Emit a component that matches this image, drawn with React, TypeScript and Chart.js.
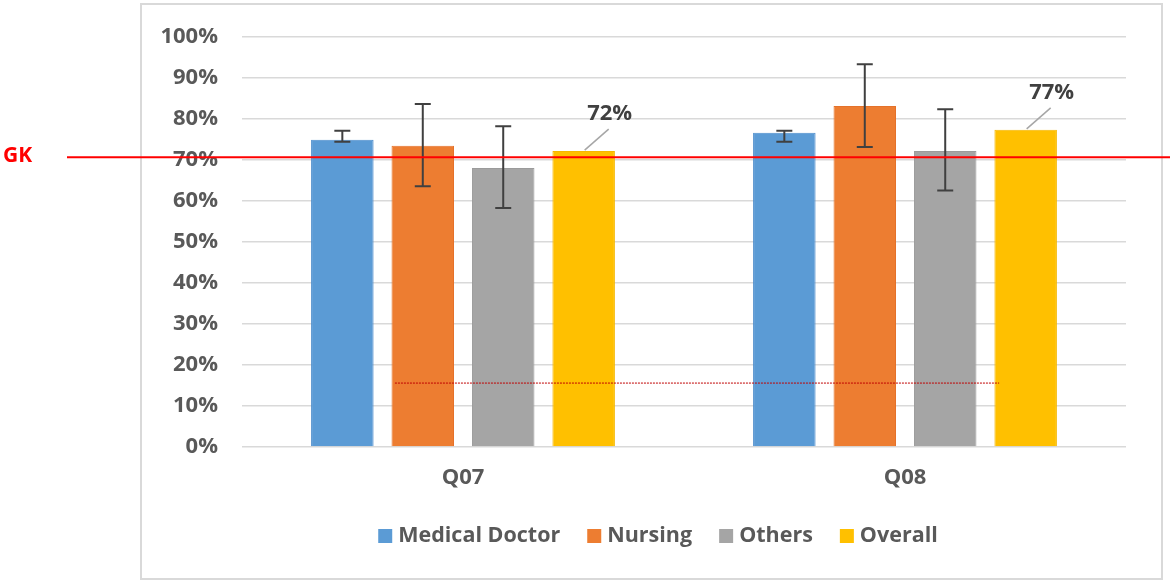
import React, { useEffect, useRef } from 'react'
import { Chart, registerables } from 'chart.js'

Chart.register(...registerables)

// valores
const categories = ['Q07', 'Q08']
const seriesNames = ['Medical Doctor', 'Nursing', 'Others', 'Overall']
const medicalDoctor = [75.0, 76.7]
const nursing = [73.5, 83.2]
const others = [68.1, 72.2]
const overall = [72.2, 77.4]

// barras de error (limite inferior / superior)
const medicalDoctorLow = [74.5, 74.5]
const medicalDoctorHigh = [77.2, 77.2]
const nursingLow = [63.6, 73.2]
const nursingHigh = [83.7, 93.4]
const othersLow = [58.3, 62.6]
const othersHigh = [78.3, 82.4]

const yTickValues = [0, 10, 20, 30, 40, 50, 60, 70, 80, 90, 100]

// linea GK y linea punteada (en unidades de datos)
const gkLabel = 'GK'
const gkLevel = 70.7
const dottedLevel = 15.6
const dottedFrom = -0.154
const dottedTo = 1.213

const colors = ['#5B9BD5', '#ED7D31', '#A5A5A5', '#FFC000']
const borders = ['#4A8BCB', '#E5722A', '#9B9B9B', '#F5B800']
const FONT = "'Open Sans', sans-serif"

const framePlugin = {
  id: 'frame',
  beforeDraw(chart: any) {
    const { ctx } = chart
    ctx.save()
    ctx.strokeStyle = '#d9d9d9'
    ctx.lineWidth = 2
    ctx.strokeRect(141, 4, 1021, 575)
    ctx.restore()
  },
}

const errorBarsPlugin = {
  id: 'errorBars',
  afterDatasetsDraw(chart: any) {
    const { ctx } = chart
    const y = chart.scales.y
    chart.data.datasets.forEach((ds: any, i: number) => {
      if (!ds.errLow) return
      const meta = chart.getDatasetMeta(i)
      meta.data.forEach((bar: any, j: number) => {
        const yl = y.getPixelForValue(ds.errLow[j])
        const yh = y.getPixelForValue(ds.errHigh[j])
        ctx.save()
        ctx.strokeStyle = '#404040'
        ctx.lineWidth = 2
        ctx.beginPath()
        ctx.moveTo(bar.x, yl)
        ctx.lineTo(bar.x, yh)
        ctx.moveTo(bar.x - 8, yl)
        ctx.lineTo(bar.x + 8, yl)
        ctx.moveTo(bar.x - 8, yh)
        ctx.lineTo(bar.x + 8, yh)
        ctx.stroke()
        ctx.restore()
      })
    })
  },
}

const overallLabelsPlugin = {
  id: 'overallLabels',
  afterDatasetsDraw(chart: any) {
    const { ctx } = chart
    const idx = chart.data.datasets.length - 1
    const ds = chart.data.datasets[idx]
    const meta = chart.getDatasetMeta(idx)
    meta.data.forEach((bar: any, j: number) => {
      ctx.save()
      ctx.strokeStyle = '#a6a6a6'
      ctx.lineWidth = 1.5
      ctx.beginPath()
      ctx.moveTo(bar.x + 1, bar.y - 1)
      ctx.lineTo(bar.x + 25, bar.y - 22)
      ctx.stroke()
      ctx.fillStyle = '#404040'
      ctx.font = `bold 22px ${FONT}`
      ctx.textAlign = 'center'
      ctx.textBaseline = 'middle'
      ctx.fillText(Math.round(ds.data[j]) + '%', bar.x + 26, bar.y - 37)
      ctx.restore()
    })
  },
}

const refLinesPlugin = {
  id: 'refLines',
  afterDraw(chart: any) {
    const { ctx } = chart
    const x = chart.scales.x
    const y = chart.scales.y
    // linea punteada
    const yd = y.getPixelForValue(dottedLevel)
    ctx.save()
    ctx.strokeStyle = '#c00000'
    ctx.lineWidth = 1
    ctx.setLineDash([2, 1])
    ctx.beginPath()
    ctx.moveTo(x.getPixelForValue(dottedFrom), yd)
    ctx.lineTo(x.getPixelForValue(dottedTo), yd)
    ctx.stroke()
    ctx.restore()
    // linea GK
    const yg = y.getPixelForValue(gkLevel)
    ctx.save()
    ctx.strokeStyle = '#ff0000'
    ctx.lineWidth = 2
    ctx.beginPath()
    ctx.moveTo(67, yg)
    ctx.lineTo(chart.width, yg)
    ctx.stroke()
    ctx.fillStyle = '#ff0000'
    ctx.font = `bold 21px ${FONT}`
    ctx.textAlign = 'left'
    ctx.textBaseline = 'middle'
    ctx.fillText(gkLabel, 3, yg - 1)
    ctx.restore()
  },
}

const legendPlugin = {
  id: 'customLegend',
  afterDraw(chart: any) {
    const { ctx } = chart
    ctx.save()
    ctx.font = `bold 21.5px ${FONT}`
    ctx.textBaseline = 'middle'
    ctx.textAlign = 'left'
    const box = 14
    const gap = 6
    const itemGap = 27
    const widths = seriesNames.map((n) => ctx.measureText(n).width)
    const total = widths.reduce((a, w) => a + box + gap + w, 0) + itemGap * (seriesNames.length - 1)
    let cx = 658 - total / 2
    const cy = 536
    seriesNames.forEach((n, i) => {
      ctx.fillStyle = colors[i]
      ctx.fillRect(cx, cy - 7, box, box)
      ctx.fillStyle = '#595959'
      ctx.fillText(n, cx + box + gap, cy)
      cx += box + gap + widths[i] + itemGap
    })
    ctx.restore()
  },
}

export default function App() {
  const canvasRef = useRef<HTMLCanvasElement>(null)
  const chartRef = useRef<Chart | null>(null)

  useEffect(() => {
    if (!canvasRef.current) return
    const ctx = canvasRef.current.getContext('2d')
    if (!ctx) return

    const values = [medicalDoctor, nursing, others, overall]
    const lows = [medicalDoctorLow, nursingLow, othersLow, null]
    const highs = [medicalDoctorHigh, nursingHigh, othersHigh, null]

    chartRef.current = new Chart(ctx, {
      type: 'bar',
      data: {
        labels: categories,
        datasets: seriesNames.map((name, i) => ({
          label: name,
          data: values[i],
          backgroundColor: colors[i],
          borderColor: borders[i],
          borderWidth: 1,
          categoryPercentage: 0.728,
          barPercentage: 0.777,
          errLow: lows[i],
          errHigh: highs[i],
        })) as any,
      },
      options: {
        responsive: true,
        maintainAspectRatio: false,
        animation: false,
        layout: { padding: { left: 140, right: 44, top: 37, bottom: 85 } },
        plugins: {
          legend: { display: false },
          tooltip: { enabled: false },
        },
        scales: {
          x: {
            grid: { display: false },
            border: { display: false },
            ticks: {
              padding: 10,
              color: '#595959',
              font: { family: FONT, size: 22, weight: 'bold' },
            },
            afterFit: (scale: any) => {
              scale.height = 55
            },
          },
          y: {
            min: 0,
            max: 100,
            afterBuildTicks: (scale: any) => {
              scale.ticks = yTickValues.map((v) => ({ value: v }))
            },
            grid: { color: '#d9d9d9', lineWidth: 1.5, drawTicks: false },
            border: { display: false },
            ticks: {
              padding: 24,
              color: '#595959',
              font: { family: FONT, size: 22, weight: 'bold' },
              callback: (v: any) => v + '%',
            },
            afterFit: (scale: any) => {
              scale.width = 102
            },
          },
        },
      } as any,
      plugins: [framePlugin, errorBarsPlugin, overallLabelsPlugin, refLinesPlugin, legendPlugin],
    })

    return () => {
      if (chartRef.current) {
        chartRef.current.destroy()
        chartRef.current = null
      }
    }
  }, [])

  return (
    <div style={{ position: 'fixed', left: 0, top: 0, width: '1170px', height: '587px', background: '#fff' }}>
      <canvas ref={canvasRef} />
    </div>
  )
}
